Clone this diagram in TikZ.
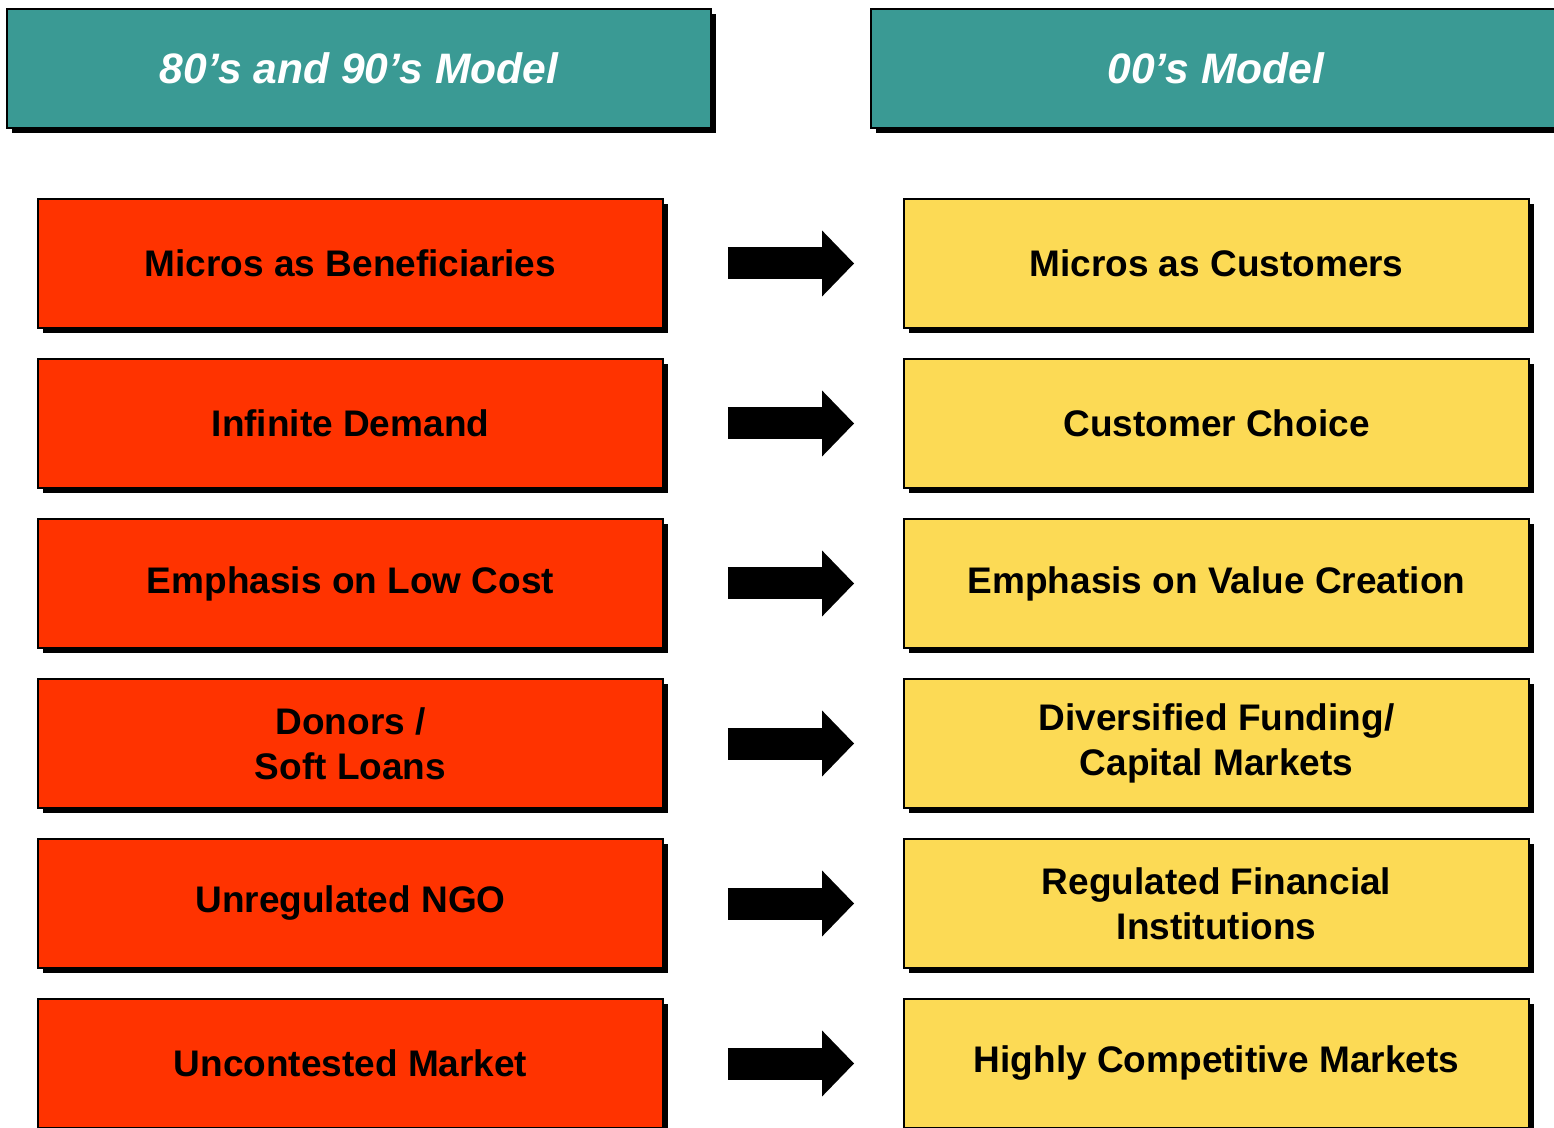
\documentclass[tikz,border=0pt]{standalone}
\usepackage{fontspec}
\setmainfont{Liberation Sans}
\usetikzlibrary{shadows,arrows.meta}
\definecolor{headteal}{HTML}{3A9A94}
\definecolor{oldred}{HTML}{FF3300}
\definecolor{newyellow}{HTML}{FCDA55}
\begin{document}
\begin{tikzpicture}[x=0.5pt,y=-0.5pt,
  boxbase/.style={draw=black, line width=0.9pt, inner sep=0pt, align=center,
    drop shadow={shadow xshift=2.5pt, shadow yshift=-2.5pt, fill=black, opacity=1}},
  headbox/.style={boxbase, fill=headteal, minimum height=59.5pt, text=white,
    font=\fontsize{21.3}{25}\selectfont\bfseries\itshape},
  oldbox/.style={boxbase, fill=oldred, minimum width=312.5pt, minimum height=64.5pt,
    font=\fontsize{18.5}{22.5}\selectfont\bfseries},
  newbox/.style={boxbase, fill=newyellow, minimum width=312.5pt, minimum height=64.5pt,
    font=\fontsize{18.5}{22.5}\selectfont\bfseries},
  shiftarrow/.style={line width=16pt, -{Triangle[length=16pt,width=32pt]}}
]
\clip (0,0) rectangle (1554,1128);
\fill[white] (0,0) rectangle (1554,1128);

% column headings
\node[headbox, minimum width=352pt] (hold) at (359,68.5) {80’s and 90’s Model};
\node[headbox, minimum width=345pt] (hnew) at (1216,68.5) {00’s Model};

% old model (left) and new model (right)
\node[oldbox] (o1) at (350.5,263.5) {Micros as Beneficiaries};
\node[oldbox] (o2) at (350.5,423.5) {Infinite Demand};
\node[oldbox] (o3) at (350.5,583.5) {Emphasis on Low Cost};
\node[oldbox] (o4) at (350.5,743.5) {Donors /\\ Soft Loans};
\node[oldbox] (o5) at (350.5,903.5) {Unregulated NGO};
\node[oldbox] (o6) at (350.5,1063.5) {Uncontested Market};

\node[newbox] (n1) at (1216.5,263.5) {Micros as Customers};
\node[newbox] (n2) at (1216.5,423.5) {Customer Choice};
\node[newbox] (n3) at (1216.5,583.5) {Emphasis on Value Creation};
\node[newbox] (n4) at (1216.5,743.5) {Diversified Funding/\\ Capital Markets};
\node[newbox] (n5) at (1216.5,903.5) {Regulated Financial\\ Institutions};
\node[newbox] (n6) at (1216.5,1063.5) {Highly Competitive Markets};

% transition arrows
\foreach \i in {1,...,6}
  \draw[shiftarrow] ([xshift=32pt]o\i.east) -- ([xshift=-24.5pt]n\i.west);
\end{tikzpicture}
\end{document}
